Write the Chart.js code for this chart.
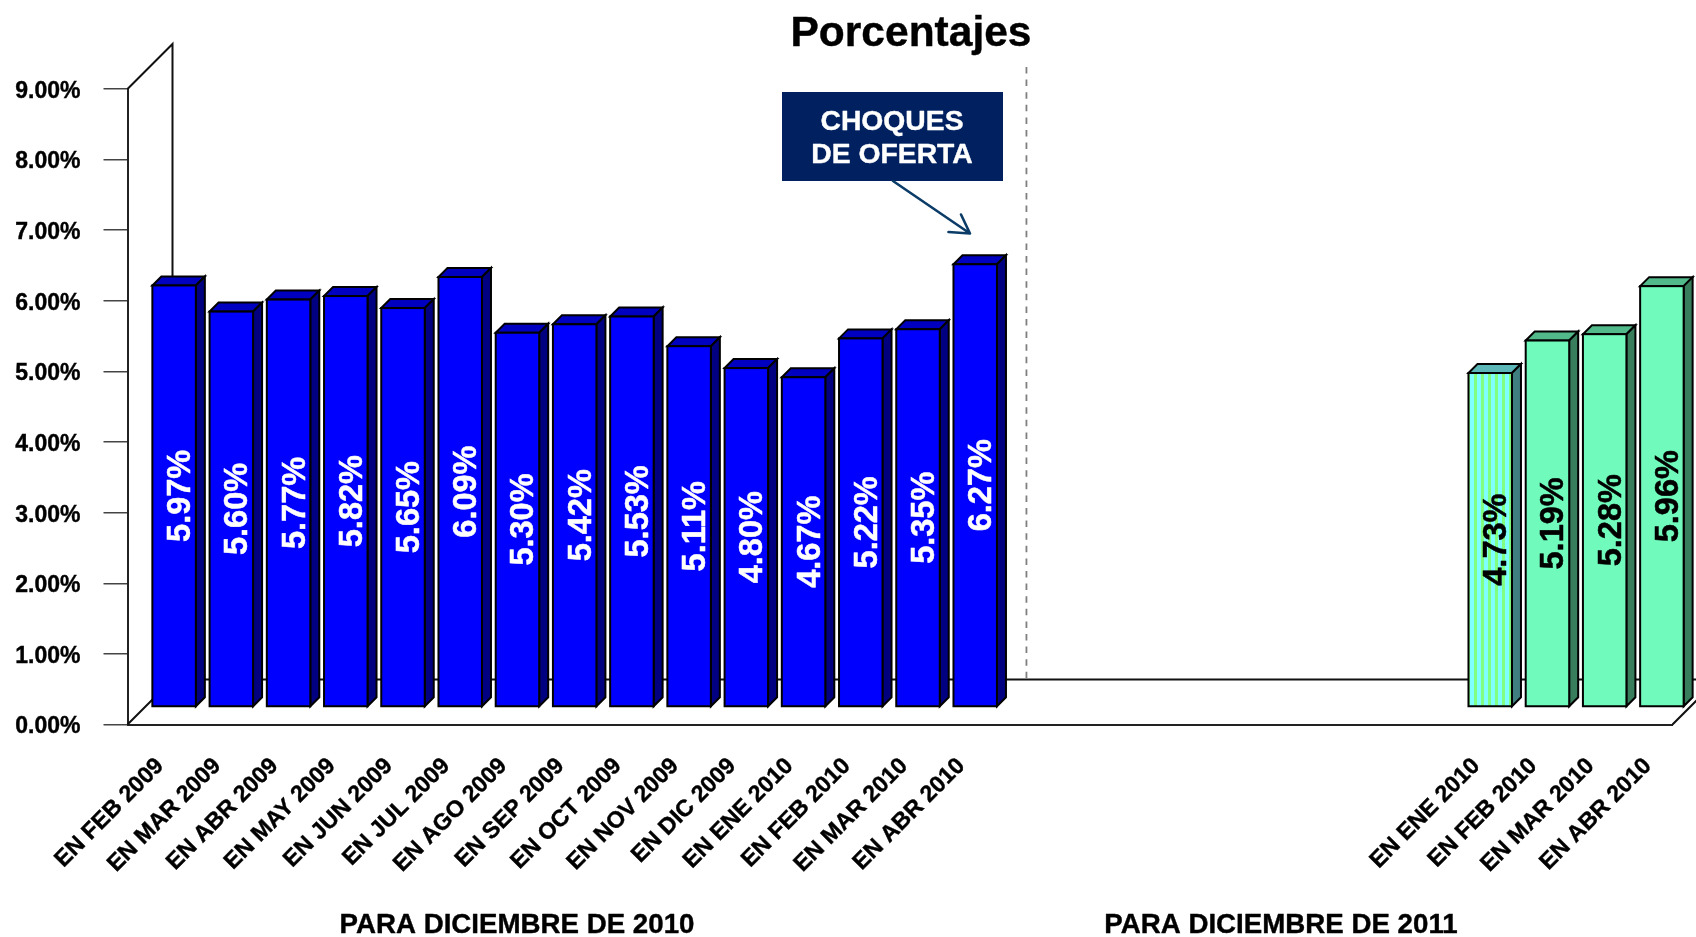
<!DOCTYPE html>
<html><head><meta charset="utf-8">
<style>html,body{margin:0;padding:0;background:#fff}canvas{display:block}</style>
<script src="https://cdn.jsdelivr.net/npm/chart.js@4"></script>
</head><body><canvas id="c" width="1696" height="937"></canvas>
<script>
const categories = ['EN FEB 2009','EN MAR 2009','EN ABR 2009','EN MAY 2009','EN JUN 2009','EN JUL 2009','EN AGO 2009','EN SEP 2009','EN OCT 2009','EN NOV 2009','EN DIC 2009','EN ENE 2010','EN FEB 2010','EN MAR 2010','EN ABR 2010','','','','','','','','','EN ENE 2010','EN FEB 2010','EN MAR 2010','EN ABR 2010'];
const para2010 = [5.97,5.60,5.77,5.82,5.65,6.09,5.30,5.42,5.53,5.11,4.80,4.67,5.22,5.35,6.27,null,null,null,null,null,null,null,null,null,null,null,null];
const para2011 = [null,null,null,null,null,null,null,null,null,null,null,null,null,null,null,null,null,null,null,null,null,null,null,4.73,5.19,5.28,5.96];
const title = 'Porcentajes';
const calloutLines = ['CHOQUES','DE OFERTA'];
const groupLabels = ['PARA DICIEMBRE DE 2010','PARA DICIEMBRE DE 2011'];

const FONT = '"Liberation Sans", Arial, sans-serif';
const FLOOR = 45, OFF_X = 18, OFF_Y = 17.5, BAR_D = 9;

const ctx0 = document.getElementById('c').getContext('2d');
function stripes(){
  const p = document.createElement('canvas'); p.width = 7; p.height = 2;
  const g = p.getContext('2d');
  g.fillStyle = '#80ff80'; g.fillRect(0,0,7,2);
  g.fillStyle = '#80ffff'; g.fillRect(3,0,4,2);
  return ctx0.createPattern(p,'repeat');
}
const hatch = stripes();

const faces = {
  0: () => ({top:'#0000c0', side:'#000080'}),
  1: i => i === 23 ? {top:'#5cb8b8', side:'#3f7f80'} : {top:'#52b98a', side:'#387d5c'}
};

function boldText(ctx, s, x, y, w){
  ctx.lineWidth = w; ctx.lineJoin = 'round';
  ctx.strokeStyle = ctx.fillStyle;
  ctx.strokeText(s, x, y);
  ctx.fillText(s, x, y);
}

const depth = {
  id:'depth',
  beforeDatasetsDraw(chart){
    const {ctx, chartArea:a} = chart;
    ctx.save();
    ctx.strokeStyle = '#111'; ctx.lineWidth = 2; ctx.lineJoin = 'miter';
    ctx.beginPath();
    ctx.moveTo(a.left, a.top); ctx.lineTo(a.left+FLOOR, a.top-FLOOR); ctx.lineTo(a.left+FLOOR, a.bottom-FLOOR);
    ctx.moveTo(a.left, a.bottom); ctx.lineTo(a.left+FLOOR, a.bottom-FLOOR); ctx.lineTo(a.right+FLOOR, a.bottom-FLOOR);
    ctx.moveTo(a.right, a.bottom); ctx.lineTo(a.right+FLOOR, a.bottom-FLOOR);
    ctx.stroke();
    // dashed divider
    const dx = chart.scales.x.getPixelForValue(15) + 12;
    ctx.strokeStyle = '#7f7f7f'; ctx.lineWidth = 1.8; ctx.setLineDash([6.5,6.1]);
    ctx.beginPath(); ctx.moveTo(dx, 67); ctx.lineTo(dx, a.bottom-FLOOR); ctx.stroke();
    ctx.restore();
  },
  beforeDatasetDraw(chart, args){
    const {ctx} = chart, meta = args.meta, di = args.index;
    ctx.save();
    ctx.strokeStyle = '#000'; ctx.lineWidth = 2; ctx.lineJoin = 'miter';
    meta.data.forEach((el,i) => {
      if (chart.data.datasets[di].data[i] == null) return;
      const p = el.getProps(['x','y','base','width'], true);
      const L = p.x - p.width/2 + OFF_X, R = p.x + p.width/2 + OFF_X, T = p.y - OFF_Y, B = p.base - OFF_Y;
      const c = faces[di](i);
      ctx.fillStyle = c.top;
      ctx.beginPath(); ctx.moveTo(L,T); ctx.lineTo(L+BAR_D,T-BAR_D); ctx.lineTo(R+BAR_D,T-BAR_D); ctx.lineTo(R,T); ctx.closePath(); ctx.fill(); ctx.stroke();
      ctx.fillStyle = c.side;
      ctx.beginPath(); ctx.moveTo(R,T); ctx.lineTo(R+BAR_D,T-BAR_D); ctx.lineTo(R+BAR_D,B-BAR_D); ctx.lineTo(R,B); ctx.closePath(); ctx.fill(); ctx.stroke();
    });
    ctx.restore();
    ctx.save();
    ctx.translate(OFF_X,-OFF_Y);
  },
  afterDatasetDraw(chart, args){
    const {ctx} = chart;
    // outline centred on the bar edges, still inside the translated frame
    ctx.strokeStyle = '#000'; ctx.lineWidth = 2; ctx.lineJoin = 'miter';
    args.meta.data.forEach((el,i) => {
      if (chart.data.datasets[args.index].data[i] == null) return;
      const p = el.getProps(['x','y','base','width'], true);
      ctx.strokeRect(p.x - p.width/2, p.y, p.width, p.base - p.y);
    });
    ctx.restore();
  },
  afterDatasetsDraw(chart){
    const {ctx} = chart;
    ctx.save();
    // value labels
    ctx.font = 'bold 32.5px '+FONT; ctx.textAlign = 'center'; ctx.textBaseline = 'middle';
    chart.data.datasets.forEach((ds,di) => {
      chart.getDatasetMeta(di).data.forEach((el,i) => {
        const v = ds.data[i]; if (v == null) return;
        const p = el.getProps(['x','y','base'], true);
        ctx.save();
        ctx.translate(p.x + OFF_X + 6, (p.y + p.base)/2 - OFF_Y);
        ctx.rotate(-Math.PI/2);
        ctx.fillStyle = di === 0 ? '#fff' : '#000';
        boldText(ctx, v.toFixed(2)+'%', 0, 1, 0.5);
        ctx.restore();
      });
    });
    // title
    ctx.fillStyle = '#000'; ctx.font = 'bold 42.5px '+FONT;
    boldText(ctx, title, 911, 34, 0.4);
    // group labels
    ctx.font = 'bold 27.7px '+FONT;
    boldText(ctx, groupLabels[0], 517, 925, 0.4);
    boldText(ctx, groupLabels[1], 1281, 925, 0.4);
    // callout
    ctx.fillStyle = '#002060'; ctx.fillRect(782, 92, 221, 89);
    ctx.fillStyle = '#fff'; ctx.font = 'bold 28.3px '+FONT;
    boldText(ctx, calloutLines[0], 892, 122.5, 0.4);
    boldText(ctx, calloutLines[1], 892, 155, 0.4);
    // arrow
    ctx.strokeStyle = '#0b3c68'; ctx.lineWidth = 2.6; ctx.lineCap = 'round'; ctx.lineJoin = 'round';
    ctx.beginPath(); ctx.moveTo(893,181); ctx.lineTo(970,233.5);
    ctx.moveTo(948.5,232); ctx.lineTo(970,233.5); ctx.lineTo(961,214.5); ctx.stroke();
    ctx.restore();
  }
};

new Chart(ctx0, {
  type:'bar',
  data:{ labels:categories, datasets:[
    {label:'2010', data:para2010, backgroundColor:'#0000ff', borderWidth:0, clip:false},
    {label:'2011', data:para2011, backgroundColor:c => c.dataIndex === 23 ? hatch : '#70fabb', borderWidth:0, clip:false}
  ]},
  options:{
    responsive:false, animation:false, devicePixelRatio:1,
    layout:{padding:{top:89,right:23.5,left:0,bottom:0}},
    plugins:{legend:{display:false},title:{display:false},tooltip:{enabled:false}},
    datasets:{bar:{grouped:false,categoryPercentage:1,barPercentage:0.76}},
    scales:{
      x:{
        grid:{display:false},
        border:{display:true,color:'#222',width:2},
        afterFit(s){ s.height = 212.5; },
        ticks:{autoSkip:false,minRotation:45,maxRotation:45,color:'#000',padding:20,labelOffset:4,textStrokeColor:'#000',textStrokeWidth:0.4,font:{family:FONT,weight:'bold',size:23.2}}
      },
      y:{
        min:0,max:9,
        grid:{drawOnChartArea:false,drawTicks:true,tickLength:24,color:'#444',lineWidth:1.5},
        border:{display:true,color:'#222',width:2},
        afterFit(s){ s.width = 127.5; },
        ticks:{stepSize:1,padding:23,labelOffset:2.5,color:'#000',textStrokeColor:'#000',textStrokeWidth:0.4,font:{family:FONT,weight:'bold',size:23},callback:v => v.toFixed(2)+'%'}
      }
    }
  },
  plugins:[depth]
});
</script></body></html>
